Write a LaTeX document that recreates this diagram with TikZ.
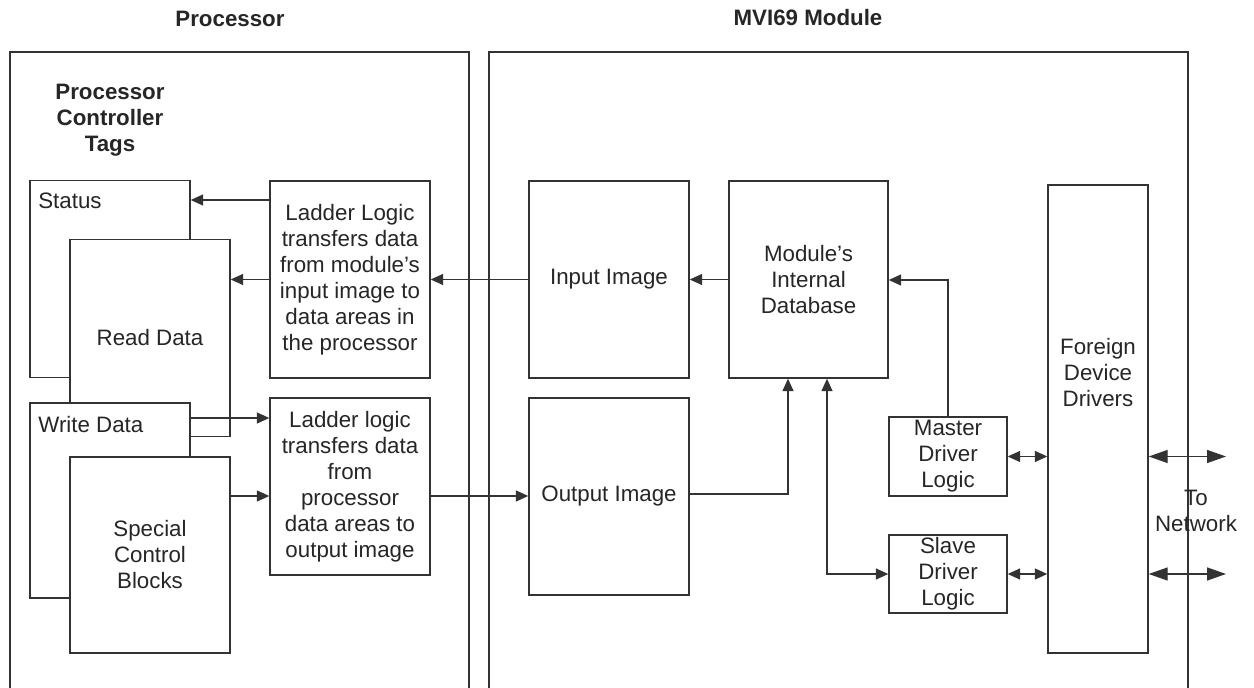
\documentclass[tikz,border=0pt]{standalone}
\usepackage{fontspec}
\setmainfont{Liberation Sans}
\usetikzlibrary{positioning,arrows.meta}

\begin{document}
\begin{tikzpicture}[x=0.02cm,y=-0.02cm,>={Triangle[length=2.5mm,width=2.2mm]}]
          %% PROCESSOR / MODULE

          \tikzstyle{every node}=[font=\fontsize{12.7}{14.8}\selectfont,text=black!85,align=center,inner sep=0pt]
          \tikzstyle{bloc}=[draw=black!80,fill=white,line width=0.8pt,minimum width=3.2cm,minimum height=3.94cm]
          \tikzstyle{fil}=[draw=black!80,line width=0.8pt]
          \tikzstyle{titre}=[font=\fontsize{12.7}{14.8}\selectfont\bfseries]

          \useasboundingbox (0,0) rectangle (1254,688);

          % titres
          \node[titre] (TP) at (230,19) {Processor};
          \node[titre] (TM) at (808,18) {MVI69 Module};

          % cadres
          \draw[fil] (10,688) |- (469,52) -- (469,688);
          \draw[fil] (489,688) |- (1188,52) -- (1188,688);

          \node[titre] (TAGS) at (110,120) {Processor\\Controller\\Tags};

          % tags du processeur
          \node[bloc] (ST) at (110,279) {};
          \node[anchor=west] (STL) at (38,201) {Status};
          \node[bloc] (RD) at (150,338) {Read Data};
          \node[bloc,minimum height=3.9cm] (WD) at (110,500.5) {};
          \node[anchor=west] (WDL) at (38,425) {Write Data};
          \node[bloc,minimum height=3.92cm] (SC) at (150,555) {Special\\Control\\Blocks};

          % ladder logic
          \node[bloc] (LL1) at (350,279.5) {Ladder Logic\\transfers data\\from module's\\input image to\\data areas in\\the processor};
          \node[bloc,minimum height=3.54cm] (LL2) at (350,486.5) {Ladder logic\\transfers data\\from\\processor\\data areas to\\output image};

          % module
          \node[bloc] (II) at (609,279.5) {Input Image};
          \node[bloc] (OI) at (609,496.5) {Output Image};
          \node[bloc,minimum width=3.18cm] (DB) at (808.5,279.5) {Module's\\Internal\\Database};
          \node[bloc,minimum width=2cm,minimum height=9.36cm] (FD) at (1098,419) {};
          \node (FDL) at (1098,373) {Foreign\\Device\\Drivers};
          \node[bloc,minimum width=2.36cm,minimum height=1.58cm] (MD) at (948,456.5) {Master\\Driver\\Logic};
          \node[bloc,minimum width=2.36cm,minimum height=1.56cm] (SD) at (948,574) {Slave\\Driver\\Logic};

          \coordinate (N1) at (1226,456.5);
          \coordinate (N2) at (1226,574);
          \node (NET) at (1196,511) {To\\Network};

          % fleches
          \draw[fil,->] (LL1.west |- 0,200) -- (ST.east |- 0,200);
          \draw[fil,->] (II.west) -- (LL1.east);
          \draw[fil,->] (LL1.west) -- (LL1.west -| RD.east);
          \draw[fil,->] (DB.west) -- (II.east);
          \draw[fil,->] (WD.east |- 0,418) -- (LL2.west |- 0,418);
          \draw[fil,->] (SC.east |- 0,496) -- (LL2.west |- 0,496);
          \draw[fil,->] (LL2.east |- 0,496) -- (OI.west |- 0,496);
          \draw[fil,->] (OI.east |- 0,494) -| (DB.south -| 788,0);
          \draw[fil,<->] (DB.south -| 827,0) |- (SD.west);
          \draw[fil,->] (MD.north) |- (DB.east |- 0,280);
          \draw[fil,<->] (MD.east) -- (FD.west |- MD.east);
          \draw[fil,<->] (SD.east) -- (FD.west |- SD.east);

          % vers le reseau
          \draw[fil,<->,>={Triangle[length=3.8mm,width=2.6mm]}] (FD.east |- N1) -- (N1);
          \draw[fil,<->,>={Triangle[length=3.8mm,width=2.6mm]}] (FD.east |- N2) -- (N2);

\end{tikzpicture}
\end{document}
